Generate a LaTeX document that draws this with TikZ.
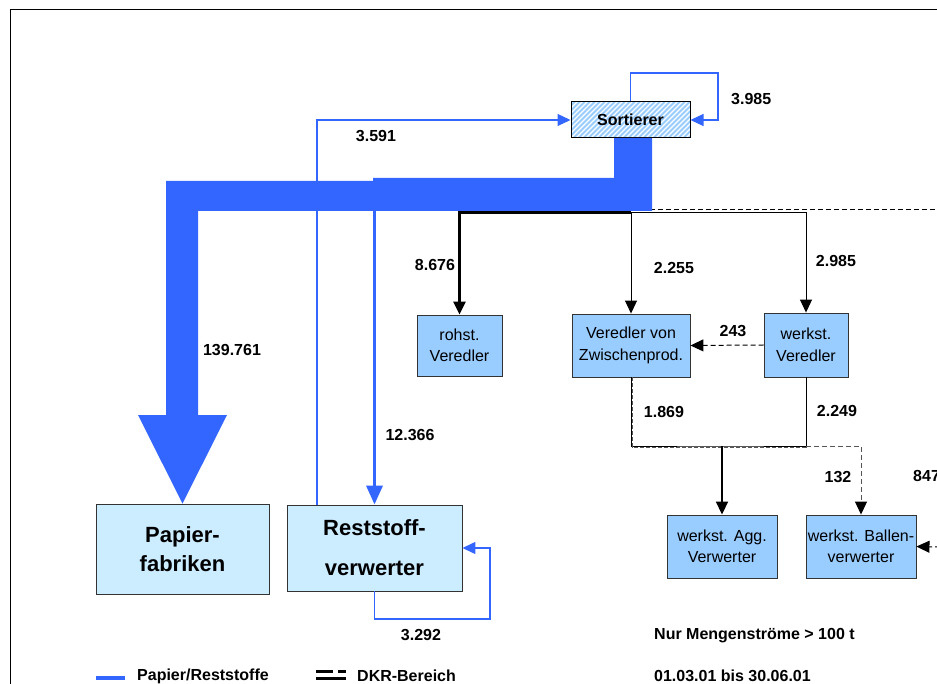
\documentclass[tikz,border=0pt]{standalone}
\usepackage{fontspec}
\setmainfont{Liberation Sans}
\usetikzlibrary{arrows.meta,calc}
\definecolor{flowblue}{HTML}{3366FF}
\definecolor{boxblue}{HTML}{99CCFF}
\definecolor{paleblue}{HTML}{CCECFF}
\definecolor{edgegray}{HTML}{333333}
\definecolor{dashgray}{HTML}{555555}

\begin{document}
\begin{tikzpicture}[x=1pt,y=-1pt,
  lbl/.style={font=\fontsize{16}{19}\selectfont\bfseries, inner sep=0pt},
  unit/.style={draw=edgegray, line width=0.9pt, fill=boxblue, inner sep=0pt,
    align=center, font=\fontsize{16}{21.5}\selectfont},
  bigunit/.style={draw=edgegray, line width=0.9pt, fill=paleblue, inner sep=0pt,
    align=center, font=\fontsize{22}{29}\selectfont\bfseries},
  bluethin/.style={draw=flowblue, line width=1.2pt},
  bluetip/.style={-{Triangle[length=13pt,width=12pt]}},
  blacktip/.style={-{Triangle[length=13pt,width=12pt,color=black]}},
  dkrdash/.style={dash pattern=on 5pt off 3pt},
]
\useasboundingbox (0,0) rectangle (937,684);

% open frame
\draw[line width=1pt] (10,684) -- (10,10) -- (937,10);

% ---------- units ----------
\node[draw=black, line width=1pt, fill=boxblue, inner sep=0pt,
  minimum width=119pt, minimum height=36pt,
  font=\fontsize{16}{19}\selectfont\bfseries,
  path picture={
    \foreach \k in {-40,-35,...,125}{
      \draw[white, line width=1.3pt]
        ($(path picture bounding box.south west)+(\k,0)$) -- ++(45:60pt);
    }
  }] (sort) at (630.5,120) {Sortierer};

\node[unit, minimum width=85pt, minimum height=61pt] (rohst) at (459.5,345.5) {rohst.\\Veredler};
\node[unit, minimum width=118pt, minimum height=63pt] (zwisch) at (631,345.5) {Veredler von\\Zwischenprod.};
\node[unit, minimum width=84pt, minimum height=64pt] (wvered) at (806,345) {werkst.\\Veredler};
\node[unit, minimum width=110pt, minimum height=63pt] (agg) at (722,546.5) {werkst. Agg.\\Verwerter};
\node[unit, minimum width=110pt, minimum height=63pt] (ball) at (861,546.5) {werkst. Ballen-\\verwerter};

\node[bigunit, minimum width=173pt, minimum height=90pt] (papier) at (182.5,549) {Papier-\\fabriken};
\node[bigunit, minimum width=175pt, minimum height=86pt,
  font=\fontsize{22}{40}\selectfont\bfseries] (rest) at (374.5,548) {Reststoff-\\verwerter};

% ---------- thin blue flows ----------
\draw[bluethin, bluetip] ([xshift=-57.5pt]rest.north) |- (sort.west);
\draw[bluethin, bluetip] (sort.north) |- (718,73) |- (sort.east);
\draw[bluethin, bluetip] (rest.south) |- (490,619) |- (rest.east);

% ---------- black flows out of the sorting stage ----------
\coordinate (hub) at (631,212.5);
\coordinate (dkr) at (940,210);
\draw[line width=1pt, dkrdash] (650,210) -- (dkr);
\draw[line width=3pt, blacktip] (hub) -| (rohst.north);
\draw[line width=1pt, blacktip] (hub) -- (zwisch.north);
\draw[line width=1pt, blacktip] (hub) -| (wvered.north);

% ---------- main paper flow ----------
\fill[flowblue] (614,138) -- (652,138) -- (652,211) -- (198,211) -- (198,415)
  -- (227,415) -- (papier.north) -- (138,415) -- (166,415) -- (166,181)
  -- (373,181) -- (373,178) -- (614,178) -- cycle;
\draw[flowblue, line width=3.5pt, -{Triangle[length=19pt,width=16pt]}]
  (374.5,205) -- (rest.north);

% ---------- downstream flows ----------
\draw[line width=1pt, dkrdash, blacktip] (wvered.west) -- (zwisch.east);
\coordinate (merge) at (722,446);
\draw[line width=1pt] (zwisch.south) |- (merge) -| (wvered.south);
\draw[dashgray, line width=0.9pt, dash pattern=on 4pt off 2pt]
  ([xshift=1.3pt]zwisch.south) |- ($(merge)+(0,1.3)$) -| ($(wvered.south)+(0,70)$);
\draw[line width=1.8pt, blacktip] (merge) -- (agg.north);
\draw[dashgray, line width=1pt, dkrdash, blacktip] (wvered.south |- merge) -| (ball.north);
\coordinate (inR) at (940,547);
\draw[line width=1pt, dkrdash, blacktip] (inR) -- (ball.east);

% ---------- flow quantities ----------
\node[lbl, anchor=west] (q1) at (731,99) {3.985};
\node[lbl] (q2) at (376,136) {3.591};
\node[lbl] (q3) at (232,350) {139.761};
\node[lbl] (q4) at (410,435) {12.366};
\node[lbl] (q5) at (435,265) {8.676};
\node[lbl] (q6) at (674,268) {2.255};
\node[lbl] (q7) at (836,261) {2.985};
\node[lbl] (q8) at (733,331) {243};
\node[lbl] (q9) at (664,412) {1.869};
\node[lbl] (q10) at (837,411) {2.249};
\node[lbl] (q11) at (838,477) {132};
\node[lbl, anchor=west] (q12) at (913,476) {847};
\node[lbl] (q13) at (421,635) {3.292};

% ---------- notes and legend ----------
\node[lbl, anchor=west] (note1) at (654,636) {Nur Mengenströme > 100 t};
\node[lbl, anchor=west] (note2) at (654,676) {01.03.01 bis 30.06.01};

\coordinate (lgA) at (96,678);
\coordinate (lgB) at (125,678);
\draw[flowblue, line width=4pt] (lgA) -- (lgB);
\node[lbl, anchor=west] (lg1) at (137,676) {Papier/Reststoffe};

\coordinate (dkA) at (316,671);
\coordinate (dkB) at (346,671);
\draw[line width=3pt, dash pattern=on 17pt off 5pt] (dkA) -- (dkB);
\draw[line width=3pt] (316,678.5) -- (346,678.5);
\node[lbl, anchor=west] (lg2) at (357,676) {DKR-Bereich};
\end{tikzpicture}
\end{document}
